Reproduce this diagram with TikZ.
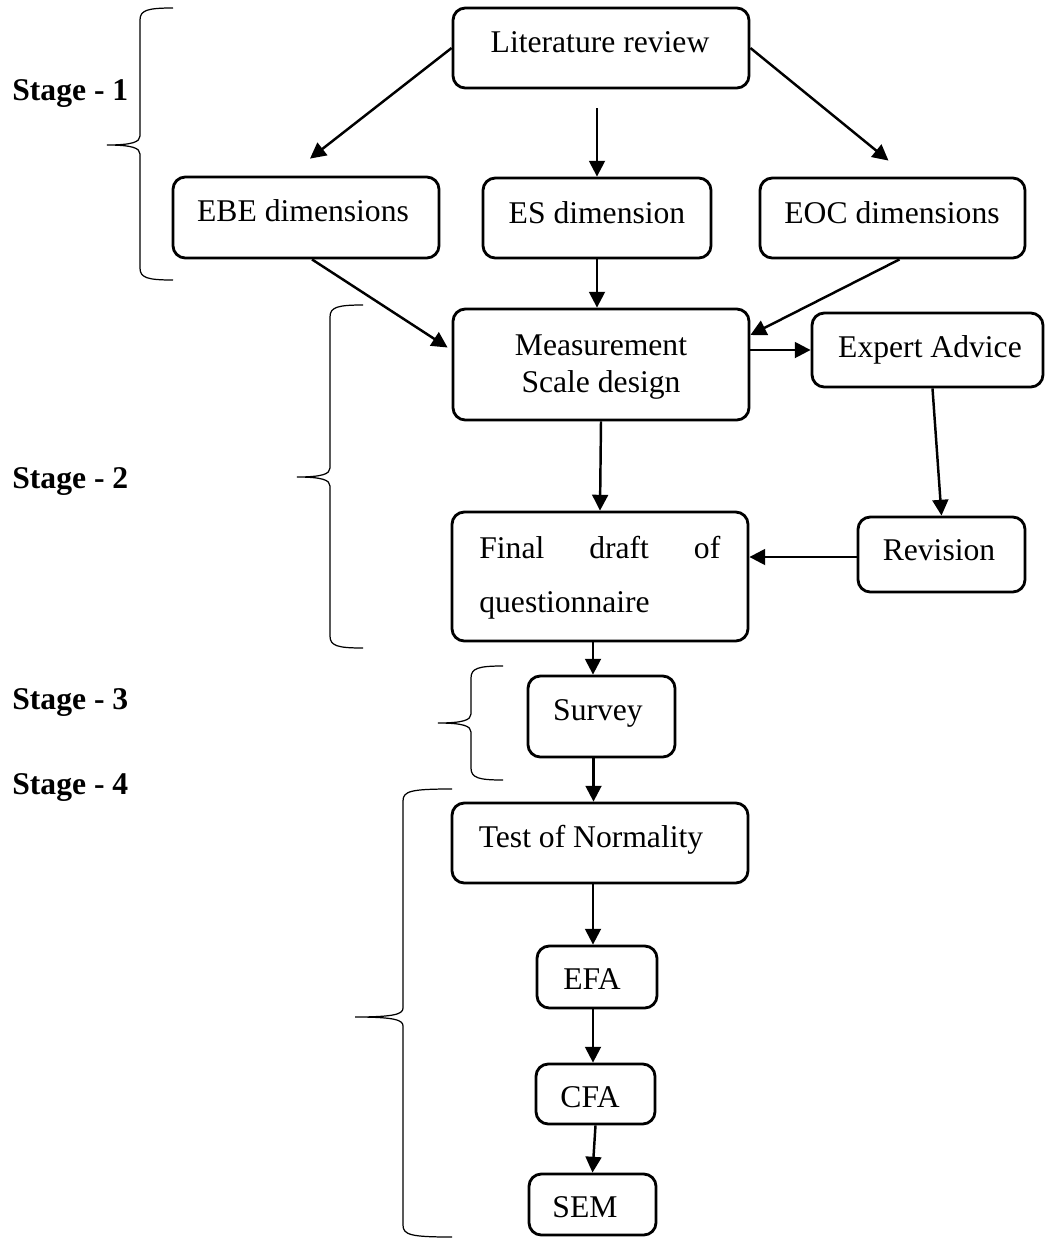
\documentclass[tikz,border=0pt]{standalone}
\usepackage{fontspec}
\setmainfont{Liberation Serif}
\usetikzlibrary{arrows.meta,fit}

% curly bracket of a stage: x, top, tip y, bottom, arm end x, tip x
\newcommand{\stagebrace}[6]{%
  \draw[brace] (#5,#2) .. controls ({#1+8},#2) and (#1,{#2+2}) .. (#1,{#2+12})
    -- (#1,{#3-9}) .. controls (#1,{#3-3}) and ({#1-8},#3) .. (#6,#3)
    .. controls ({#1-8},#3) and (#1,{#3+3}) .. (#1,{#3+9})
    -- (#1,{#4-12}) .. controls (#1,{#4-2}) and ({#1+8},#4) .. (#5,#4);}

\begin{document}
\begin{tikzpicture}[x=0.02cm,y=-0.02cm,
  font=\fontsize{18}{21}\selectfont,
  box/.style={draw,line width=1.6pt,rounded corners=7pt,inner sep=0pt},
  txt/.style={anchor=base,inner sep=0pt,align=center},
  stg/.style={anchor=base west,inner sep=0pt,font=\fontsize{18}{21}\selectfont\bfseries},
  arr/.style={-{Triangle[length=9pt,width=9pt]},line width=1.4pt},
  brace/.style={line width=0.7pt}]
\useasboundingbox (0,0) rectangle (1045,1238);

% ---- boxes -------------------------------------------------------------
\node[box,fit={(453,8) (749,88)}]      (lit)   {};
\node[box,fit={(173,177) (439,258)}]   (ebe)   {};
\node[box,fit={(483,178) (711,258)}]   (es)    {};
\node[box,fit={(760,178) (1025,258)}]  (eoc)   {};
\node[box,fit={(453,309) (749,420)}]   (meas)  {};
\node[box,fit={(812,313) (1043,387)}]  (exp)   {};
\node[box,fit={(452,512) (748,641)}]   (final) {};
\node[box,fit={(858,517) (1025,592)}]  (rev)   {};
\node[box,fit={(528,676) (675,757)}]   (surv)  {};
\node[box,fit={(452,803) (748,883)}]   (norm)  {};
\node[box,fit={(537,946) (657,1008)}]  (efa)   {};
\node[box,fit={(536,1064) (655,1124)}] (cfa)   {};
\node[box,fit={(529,1174) (656,1235)}] (sem)   {};

% ---- texts, on their baselines (two-line ones on the last line) ---------
\node[txt] (litT)   at (600,52)   {Literature review};
\node[txt] (ebeT)   at (303,221)  {EBE dimensions};
\node[txt] (esT)    at (597,223)  {ES dimension};
\node[txt] (eocT)   at (892,223)  {EOC dimensions};
\node[txt] (measT)  at (601,392)  {Measurement\\[0pt]Scale design};
\node[txt] (expT)   at (930,357)  {Expert Advice};
\node[anchor=base west,inner sep=0pt,text width=4.82cm,align=left] (finalT) at (479,558)
  {Final\hfill draft\hfill of\\[10pt]questionnaire};
\node[txt] (revT)   at (939,560)  {Revision};
\node[txt] (survT)  at (598,720)  {Survey};
\node[txt] (normT)  at (591,847)  {Test of Normality};
\node[txt] (efaT)   at (592,989)  {EFA};
\node[txt] (cfaT)   at (590,1107) {CFA};
\node[txt] (semT)   at (585,1217) {SEM};

% ---- stages --------------------------------------------------------------
\node[stg] (st1) at (12,100) {Stage - 1};
\node[stg] (st2) at (12,488) {Stage - 2};
\node[stg] (st3) at (12,709) {Stage - 3};
\node[stg] (st4) at (12,794) {Stage - 4};
\stagebrace{140}{8}{145}{280}{173}{107}
\stagebrace{330}{305}{477}{648}{363}{297}
\stagebrace{471}{666}{723}{780}{503}{438}
\stagebrace{403}{789}{1017}{1237}{452}{355}

% ---- the flow ------------------------------------------------------------
\draw[arr] (lit.west) -- ([xshift=0.08cm,yshift=0.34cm]ebe.north);
\draw[arr] ([yshift=-0.38cm]lit.south -| es.north) -- (es.north);
\draw[arr] (lit.east) -- ([xshift=-0.08cm,yshift=0.32cm]eoc.north);
\draw[arr] ([xshift=0.12cm]ebe.south) -- ([xshift=-0.08cm,yshift=0.34cm]meas.west);
\draw[arr] (es.south) -- (es.south |- meas.north);
\draw[arr] ([xshift=0.14cm]eoc.south) -- ([yshift=0.59cm]meas.east);
\draw[arr] (meas.east |- exp.west) -- (exp.west);
\draw[arr] (meas.south) -- (final.north);
\draw[arr] ([xshift=0.1cm]exp.south) -- (rev.north);
\draw[arr] ([yshift=-0.05cm]rev.west) -- ([yshift=-0.05cm]rev.west -| final.east);
\draw[arr] ([xshift=-0.14cm]final.south) -- ([xshift=-0.14cm]final.south |- surv.north);
\draw[arr] ([xshift=-0.16cm]surv.south) -- ([xshift=-0.16cm]surv.south |- norm.north);
\draw[arr] ([xshift=-0.14cm]norm.south) -- ([xshift=-0.14cm]norm.south |- efa.north);
\draw[arr] ([xshift=-0.08cm]efa.south) -- ([xshift=-0.08cm]efa.south |- cfa.north);
\draw[arr] (cfa.south) -- (sem.north);
\end{tikzpicture}
\end{document}
